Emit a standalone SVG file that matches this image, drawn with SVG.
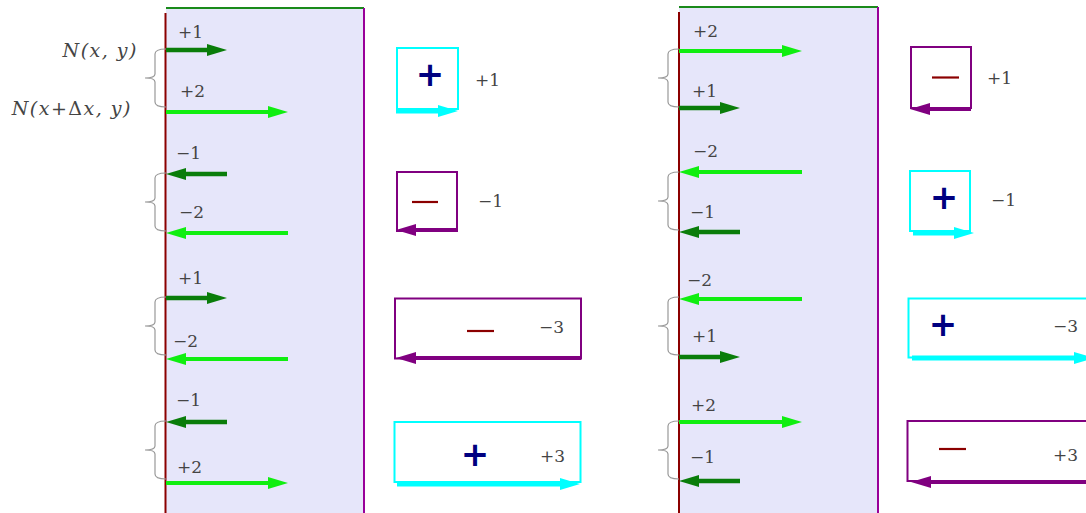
<svg xmlns="http://www.w3.org/2000/svg" xmlns:xlink="http://www.w3.org/1999/xlink" width="1086" height="513" viewBox="0 0 1086 513">
<style>
.lbl{font-family:"DejaVu Serif","Liberation Serif",serif;font-size:17px;fill:#444}
.nl{font-family:"DejaVu Serif","Liberation Serif",serif;font-style:italic;font-size:19px;fill:#444;text-anchor:end}
.brace{fill:none;stroke:#999;stroke-width:1.2}
.dg{stroke:#0a7d0a;stroke-width:4.5;fill:none}
.lg{stroke:#10ee10;stroke-width:4;fill:none}
.cy{stroke:#00ffff;stroke-width:5;fill:none}
.pu{stroke:#800080;stroke-width:4;fill:none}
.boxc{fill:#fff;stroke:#00ffff;stroke-width:2}
.boxp{fill:#fff;stroke:#800080;stroke-width:2}
.plus{font-family:"DejaVu Sans",sans-serif;font-weight:bold;font-size:34px;fill:#000080;text-anchor:middle}
.minus{stroke:#8b0000;stroke-width:2.2}
</style>
<defs>
<marker id="hdg" markerUnits="userSpaceOnUse" markerWidth="20" markerHeight="14" viewBox="0 0 20 14" refX="10" refY="7" orient="auto"><path d="M0,1 L20,7 L0,13 z" fill="#0a7d0a"/></marker>
<marker id="hlg" markerUnits="userSpaceOnUse" markerWidth="20" markerHeight="14" viewBox="0 0 20 14" refX="10" refY="7" orient="auto"><path d="M0,1 L20,7 L0,13 z" fill="#10ee10"/></marker>
<marker id="hcy" markerUnits="userSpaceOnUse" markerWidth="20" markerHeight="14" viewBox="0 0 20 14" refX="10" refY="7" orient="auto"><path d="M0,1 L20,7 L0,13 z" fill="#00ffff"/></marker>
<marker id="hpu" markerUnits="userSpaceOnUse" markerWidth="20" markerHeight="14" viewBox="0 0 20 14" refX="10" refY="7" orient="auto"><path d="M0,1 L20,7 L0,13 z" fill="#800080"/></marker>
<path id="brace" class="brace" d="M0,0 q-11,0 -11,5 v20 q0,4 -10,4 q10,0 10,4 v20 q0,5 11,5"/>
</defs>

<g id="panel-left">
<rect x="166" y="8" width="198" height="510" fill="#e6e6fa"/>
<line x1="166" y1="8" x2="364" y2="8" stroke="#1a8a1a" stroke-width="2"/>
<line x1="165.5" y1="13" x2="165.5" y2="513" stroke="#8b0000" stroke-width="2"/>
<line x1="364" y1="8" x2="364" y2="513" stroke="#990099" stroke-width="2"/>
</g>
<g id="panel-right">
<rect x="679" y="7" width="199" height="510" fill="#e6e6fa"/>
<line x1="679" y1="7" x2="878" y2="7" stroke="#1a8a1a" stroke-width="2"/>
<line x1="679" y1="12" x2="679" y2="513" stroke="#8b0000" stroke-width="2"/>
<line x1="878" y1="7" x2="878" y2="513" stroke="#990099" stroke-width="2"/>
</g>

<g id="left-labels">
<text class="nl" x="138" y="57" letter-spacing="1.5">N(x, y)</text>
<text class="nl" x="132" y="115" letter-spacing="1.5">N(x+<tspan font-style="normal">Δ</tspan>x, y)</text>
</g>

<g id="braces">
<use xlink:href="#brace" x="166" y="49"/>
<use xlink:href="#brace" x="166" y="173"/>
<use xlink:href="#brace" x="166" y="297"/>
<use xlink:href="#brace" x="166" y="421"/>
<use xlink:href="#brace" x="679" y="49"/>
<use xlink:href="#brace" x="679" y="172"/>
<use xlink:href="#brace" x="679" y="297"/>
<use xlink:href="#brace" x="679" y="421"/>
</g>

<g id="connectors">
<line class="dg" x1="166" y1="50" x2="217" y2="50" marker-end="url(#hdg)"/>
<line class="lg" x1="166" y1="112" x2="278" y2="112" marker-end="url(#hlg)"/>
<line class="dg" x1="227" y1="174" x2="176" y2="174" marker-end="url(#hdg)"/>
<line class="lg" x1="288" y1="233" x2="176" y2="233" marker-end="url(#hlg)"/>
<line class="dg" x1="166" y1="298" x2="217" y2="298" marker-end="url(#hdg)"/>
<line class="lg" x1="288" y1="359" x2="176" y2="359" marker-end="url(#hlg)"/>
<line class="dg" x1="227" y1="422" x2="176" y2="422" marker-end="url(#hdg)"/>
<line class="lg" x1="166" y1="483" x2="278" y2="483" marker-end="url(#hlg)"/>

<line class="lg" x1="679" y1="51" x2="792" y2="51" marker-end="url(#hlg)"/>
<line class="dg" x1="679" y1="108" x2="730" y2="108" marker-end="url(#hdg)"/>
<line class="lg" x1="802" y1="172" x2="689" y2="172" marker-end="url(#hlg)"/>
<line class="dg" x1="740" y1="232" x2="689" y2="232" marker-end="url(#hdg)"/>
<line class="lg" x1="802" y1="299" x2="689" y2="299" marker-end="url(#hlg)"/>
<line class="dg" x1="679" y1="357" x2="730" y2="357" marker-end="url(#hdg)"/>
<line class="lg" x1="679" y1="422" x2="792" y2="422" marker-end="url(#hlg)"/>
<line class="dg" x1="740" y1="481" x2="689" y2="481" marker-end="url(#hdg)"/>
</g>

<g id="flow-labels">
<text class="lbl" x="178" y="38">+1</text>
<text class="lbl" x="180" y="97">+2</text>
<text class="lbl" x="176" y="159">−1</text>
<text class="lbl" x="179" y="218">−2</text>
<text class="lbl" x="178" y="284">+1</text>
<text class="lbl" x="173" y="347">−2</text>
<text class="lbl" x="176" y="406">−1</text>
<text class="lbl" x="177" y="473">+2</text>

<text class="lbl" x="693" y="37">+2</text>
<text class="lbl" x="692" y="97">+1</text>
<text class="lbl" x="693" y="157">−2</text>
<text class="lbl" x="690" y="218">−1</text>
<text class="lbl" x="687" y="286">−2</text>
<text class="lbl" x="692" y="342">+1</text>
<text class="lbl" x="691" y="411">+2</text>
<text class="lbl" x="690" y="463">−1</text>
</g>

<g id="box-l1">
<rect class="boxc" x="397" y="48" width="61" height="61"/>
<line class="cy" x1="396" y1="111" x2="448" y2="111" marker-end="url(#hcy)"/>
<text class="plus" x="430" y="86">+</text>
<text class="lbl" x="475" y="86">+1</text>
</g>
<g id="box-l2">
<rect class="boxp" x="397" y="172" width="60" height="59"/>
<line class="pu" x1="457" y1="230" x2="406" y2="230" marker-end="url(#hpu)"/>
<line class="minus" x1="412" y1="202" x2="438" y2="202"/>
<text class="lbl" x="478" y="207">−1</text>
</g>
<g id="box-l3">
<rect class="boxp" x="395" y="298.5" width="186" height="60"/>
<line class="pu" x1="581" y1="358" x2="406" y2="358" marker-end="url(#hpu)"/>
<line class="minus" x1="467" y1="331" x2="494" y2="331"/>
<text class="lbl" x="539" y="333">−3</text>
</g>
<g id="box-l4">
<rect class="boxc" x="394.5" y="422" width="186" height="60"/>
<line class="cy" x1="397" y1="484" x2="570" y2="484" marker-end="url(#hcy)"/>
<text class="plus" x="475" y="466">+</text>
<text class="lbl" x="540" y="462">+3</text>
</g>

<g id="box-r1">
<rect class="boxp" x="911" y="47" width="60" height="61"/>
<line class="pu" x1="971" y1="109" x2="920" y2="109" marker-end="url(#hpu)"/>
<line class="minus" x1="932" y1="77.5" x2="959" y2="77.5"/>
<text class="lbl" x="987" y="84">+1</text>
</g>
<g id="box-r2">
<rect class="boxc" x="910" y="171" width="60" height="60"/>
<line class="cy" x1="913" y1="233" x2="964" y2="233" marker-end="url(#hcy)"/>
<text class="plus" x="944" y="209">+</text>
<text class="lbl" x="991" y="206">−1</text>
</g>
<g id="box-r3">
<rect class="boxc" x="908.5" y="298.5" width="186" height="59"/>
<line class="cy" x1="912" y1="358" x2="1084" y2="358" marker-end="url(#hcy)"/>
<text class="plus" x="943" y="336">+</text>
<text class="lbl" x="1053" y="332">−3</text>
</g>
<g id="box-r4">
<rect class="boxp" x="907.5" y="421" width="186" height="60"/>
<line class="pu" x1="1094" y1="482" x2="921" y2="482" marker-end="url(#hpu)"/>
<line class="minus" x1="939" y1="449" x2="966" y2="449"/>
<text class="lbl" x="1053" y="461">+3</text>
</g>
</svg>
